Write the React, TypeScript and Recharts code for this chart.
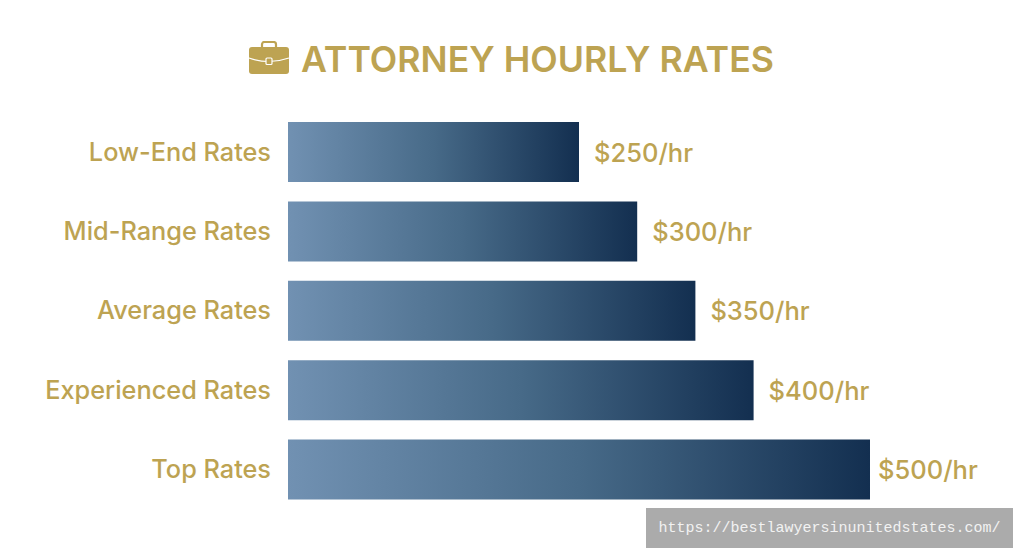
import React from "react";
import { BarChart, Bar, XAxis, YAxis, LabelList } from "recharts";

const categories = ["Low-End Rates", "Mid-Range Rates", "Average Rates", "Experienced Rates", "Top Rates"];
const rates = [250, 300, 350, 400, 500];
const title = "ATTORNEY HOURLY RATES";
const watermark = "https://bestlawyersinunitedstates.com/";

const data = categories.map((name, i) => ({ name, rate: rates[i] }));
const GOLD = "#BDA352";
const FONT = "Inter, Lato, sans-serif";

const ValueLabel = (props: any) => {
  const { x, y, width, height, value } = props;
  const gap = value >= 500 ? 8 : 15;
  return (
    <text x={x + width + gap} y={y + height / 2} dominantBaseline="central" fill={GOLD} fontFamily={FONT} fontSize={25.5} fontWeight={500}>
      {`$${value}/hr`}
    </text>
  );
};

export default function App() {
  return (
    <div style={{ position: "absolute", left: 0, top: 0, width: 1024, height: 559, background: "#fff", overflow: "hidden" }}>
      <svg width={42} height={34} viewBox="0 0 42 34" style={{ position: "absolute", left: 248, top: 41 }}>
        <path d="M14 6V3.5C14 2 15 1 16.5 1h9C27 1 28 2 28 3.5V6" fill="none" stroke={GOLD} strokeWidth={2.2} />
        <rect x={1} y={6} width={40} height={27} rx={3} fill={GOLD} />
        <path d="M1 17Q21 24 41 17" fill="none" stroke="#fff" strokeWidth={1.2} />
        <rect x={18} y={17} width={6} height={6.5} rx={1} fill={GOLD} stroke="#fff" strokeWidth={1.2} />
      </svg>
      <div style={{ position: "absolute", left: 301, top: 37, fontFamily: FONT, fontSize: 35.7, fontWeight: 600, color: GOLD, whiteSpace: "nowrap", lineHeight: "44px" }}>
        {title}
      </div>
      <BarChart width={1024} height={559} data={data} layout="vertical" barSize={60} margin={{ top: 112, right: 154, bottom: 50, left: 0 }}>
        <defs>
          <linearGradient id="barFill" x1="0" y1="0" x2="1" y2="0">
            <stop offset="0%" stopColor="#7191B2" />
            <stop offset="50%" stopColor="#476A88" />
            <stop offset="100%" stopColor="#132F50" />
          </linearGradient>
        </defs>
        <XAxis type="number" domain={[0, 500]} hide />
        <YAxis
          type="category"
          dataKey="name"
          width={288}
          axisLine={false}
          tickLine={false}
          tickMargin={11}
          tick={{ fill: GOLD, fontFamily: FONT, fontSize: 25.3, fontWeight: 500 }}
        />
        <Bar dataKey="rate" fill="url(#barFill)" isAnimationActive={false}>
          <LabelList dataKey="rate" content={ValueLabel} />
        </Bar>
      </BarChart>
      <div style={{ position: "absolute", left: 646, top: 508, width: 367, height: 40, background: "#ABABAB", color: "#F2F2F2", fontFamily: "'Liberation Mono', monospace", fontSize: 15, lineHeight: "42px", textAlign: "center", whiteSpace: "nowrap" }}>
        {watermark}
      </div>
    </div>
  );
}
